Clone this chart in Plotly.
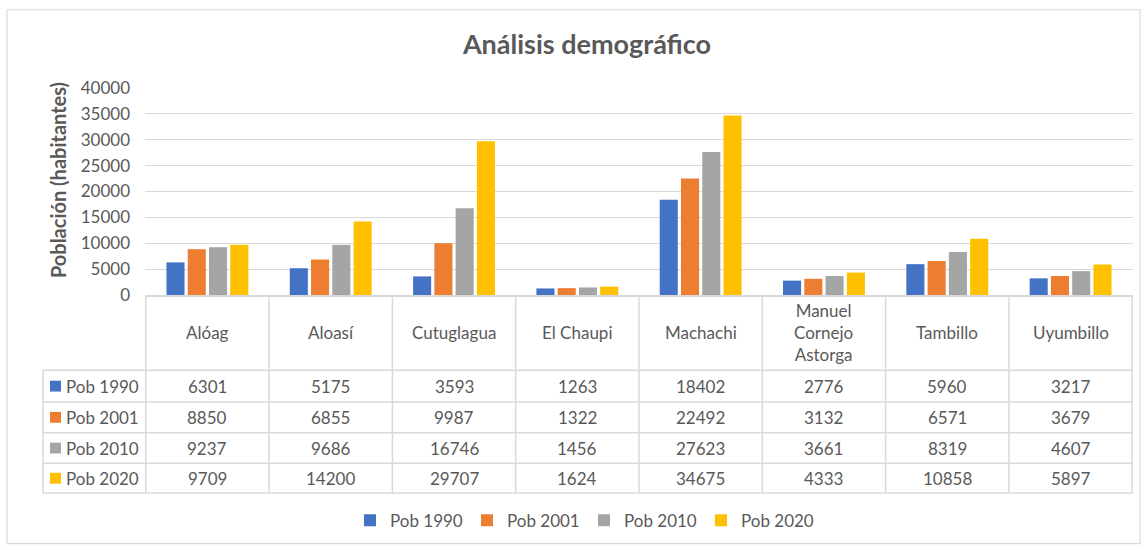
import plotly.graph_objects as go

# --- data -------------------------------------------------------------
parroquias = ["Alóag", "Aloasí", "Cutuglagua", "El Chaupi", "Machachi",
              "Manuel Cornejo Astorga", "Tambillo", "Uyumbillo"]
header_labels = ["Alóag", "Aloasí", "Cutuglagua", "El Chaupi", "Machachi",
                 "Manuel<br>Cornejo<br>Astorga", "Tambillo", "Uyumbillo"]
series_names = ["Pob 1990", "Pob 2001", "Pob 2010", "Pob 2020"]
pob_1990 = [6301, 5175, 3593, 1263, 18402, 2776, 5960, 3217]
pob_2001 = [8850, 6855, 9987, 1322, 22492, 3132, 6571, 3679]
pob_2010 = [9237, 9686, 16746, 1456, 27623, 3661, 8319, 4607]
pob_2020 = [9709, 14200, 29707, 1624, 34675, 4333, 10858, 5897]
y_ticks = [0, 5000, 10000, 15000, 20000, 25000, 30000, 35000, 40000]

series_values = [pob_1990, pob_2001, pob_2010, pob_2020]
colors = ["#4472C4", "#ED7D31", "#A5A5A5", "#FFC000"]

# --- layout geometry (pixels) -----------------------------------------
W, H = 1145, 550
ML, MR, MT, MB = 145, 12, 88, 253
PW, PH = W - ML - MR, H - MT - MB
Y0 = MT + PH  # pixel row of the x axis

FONT = "Lato"
TXT = "#595959"
GRID = "#D9D9D9"
FS = 17


def px_x(px):
    return (px - ML) / PW


def px_y(py):
    return (Y0 - py) / PH


fig = go.Figure()
for name, vals, col in zip(series_names, series_values, colors):
    fig.add_trace(go.Bar(name=name, x=parroquias, y=vals,
                         marker=dict(color=col, line=dict(width=0))))

shapes = []
annotations = []

# table row boundaries (pixels)
header_bottom = 373
row_edges = [373, 405, 436, 467, 497]
table_left = 43
n = len(parroquias)

# column separators in the header + body
for i in range(n + 1):
    shapes.append(dict(type="line", xref="x", yref="paper",
                       x0=i - 0.5, x1=i - 0.5, y0=px_y(Y0), y1=px_y(row_edges[-1]),
                       line=dict(color=GRID, width=1.5)))
# left edge of the legend column
shapes.append(dict(type="line", xref="paper", yref="paper",
                   x0=px_x(table_left), x1=px_x(table_left),
                   y0=px_y(row_edges[0]), y1=px_y(row_edges[-1]),
                   line=dict(color=GRID, width=1.5)))
# horizontal row lines
for ry in row_edges:
    shapes.append(dict(type="line", xref="paper", yref="paper",
                       x0=px_x(table_left), x1=1,
                       y0=px_y(ry), y1=px_y(ry),
                       line=dict(color=GRID, width=1.5)))

# header labels
for i, lab in enumerate(header_labels):
    annotations.append(dict(x=parroquias[i], xref="x", y=px_y((Y0 + header_bottom) / 2),
                            yref="paper", text=lab, showarrow=False,
                            xanchor="center", yanchor="middle",
                            font=dict(family=FONT, size=FS, color=TXT)))

# data rows with legend keys
for r, (name, vals, col) in enumerate(zip(series_names, series_values, colors)):
    yc = (row_edges[r] + row_edges[r + 1]) / 2
    shapes.append(dict(type="rect", xref="paper", yref="paper",
                       x0=px_x(50), x1=px_x(61), y0=px_y(yc - 5.5), y1=px_y(yc + 5.5),
                       fillcolor=col, line=dict(width=0)))
    annotations.append(dict(x=px_x(64), xref="paper", y=px_y(yc), yref="paper",
                            text=name, showarrow=False, xanchor="left",
                            yanchor="middle",
                            font=dict(family=FONT, size=FS, color=TXT)))
    for i, v in enumerate(vals):
        annotations.append(dict(x=parroquias[i], xref="x", y=px_y(yc), yref="paper",
                                text=str(v), showarrow=False, xanchor="center",
                                yanchor="middle",
                                font=dict(family=FONT, size=FS, color=TXT)))

# outer chart border
shapes.append(dict(type="rect", xref="paper", yref="paper",
                   x0=px_x(7), x1=px_x(1140), y0=px_y(9), y1=px_y(548),
                   line=dict(color="#D9D9D9", width=1.2), fillcolor="rgba(0,0,0,0)"))

# y-axis title
annotations.append(dict(x=px_x(58), xref="paper", y=px_y(181), yref="paper",
                        text="<b>Población (habitantes)</b>", textangle=-90,
                        showarrow=False, xanchor="center", yanchor="middle",
                        font=dict(family=FONT, size=20, color=TXT)))

fig.update_layout(
    width=W, height=H,
    margin=dict(l=ML, r=MR, t=MT, b=MB),
    paper_bgcolor="white", plot_bgcolor="white",
    title=dict(text="<b>Análisis demográfico</b>", x=587 / W,
               xanchor="center", y=1 - 45 / H, yanchor="middle",
               font=dict(family=FONT, size=27, color=TXT)),
    barmode="group", bargap=0.31, bargroupgap=0.15,
    xaxis=dict(showticklabels=False, showgrid=False, showline=True,
               linecolor=GRID, linewidth=1.5, ticks=""),
    yaxis=dict(range=[0, 40000], tickvals=y_ticks, tickformat="d",
               showgrid=True, gridcolor=GRID,
               gridwidth=1.2, zeroline=False, showline=False,
               tickfont=dict(family=FONT, size=FS, color=TXT),
               ticklabelstandoff=14),
    legend=dict(orientation="h", x=px_x(350), xanchor="left",
                y=px_y(525), yanchor="middle",
                font=dict(family=FONT, size=FS, color=TXT),
                itemwidth=30, entrywidth=72, entrywidthmode="pixels",
                traceorder="normal"),
    shapes=shapes, annotations=annotations,
)

fig.write_html("out.html")
